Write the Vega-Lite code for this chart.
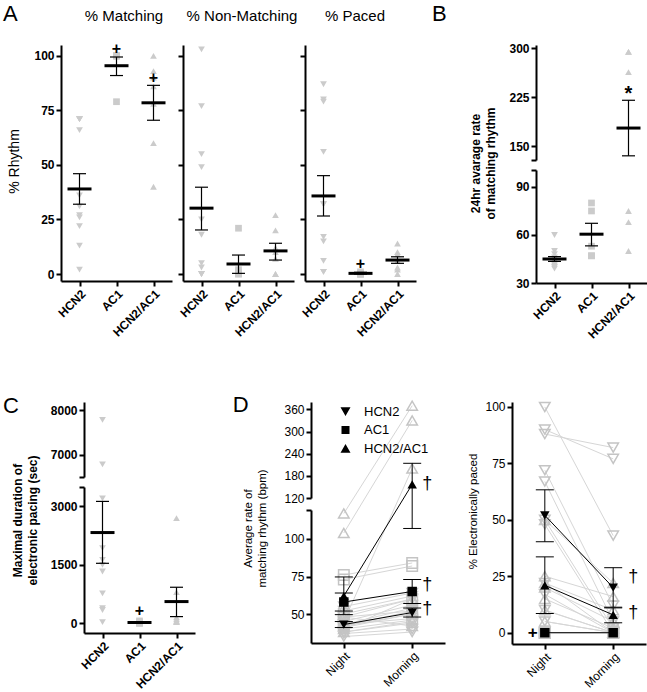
{
"$schema": "https://vega.github.io/schema/vega-lite/v6.json",
"autosize": "none",
"width": 647,
"height": 692,
"padding": 0,
"background": "white",
"config": {
  "font": "Liberation Sans",
  "view": {"stroke": null},
  "axis": {"domainColor": "black", "domainWidth": 2, "tickColor": "black", "tickWidth": 2, "tickSize": 5, "labelColor": "black", "titleColor": "black", "grid": false, "labelPadding": 2, "titleFontWeight": "normal"},
  "legend": {"labelColor": "black"}
},
"datasets": {
  "pts": [
    {"panel":"Matching","group":"HCN2","value":71},{"panel":"Matching","group":"HCN2","value":71},{"panel":"Matching","group":"HCN2","value":71},{"panel":"Matching","group":"HCN2","value":66},{"panel":"Matching","group":"HCN2","value":36},{"panel":"Matching","group":"HCN2","value":31},{"panel":"Matching","group":"HCN2","value":27},{"panel":"Matching","group":"HCN2","value":26},{"panel":"Matching","group":"HCN2","value":22},{"panel":"Matching","group":"HCN2","value":13},{"panel":"Matching","group":"HCN2","value":2},
    {"panel":"Matching","group":"AC1","value":100},{"panel":"Matching","group":"AC1","value":100},{"panel":"Matching","group":"AC1","value":100},{"panel":"Matching","group":"AC1","value":100},{"panel":"Matching","group":"AC1","value":79},
    {"panel":"Matching","group":"HCN2/AC1","value":100},{"panel":"Matching","group":"HCN2/AC1","value":93},{"panel":"Matching","group":"HCN2/AC1","value":90},{"panel":"Matching","group":"HCN2/AC1","value":86},{"panel":"Matching","group":"HCN2/AC1","value":78},{"panel":"Matching","group":"HCN2/AC1","value":60},{"panel":"Matching","group":"HCN2/AC1","value":40},
    {"panel":"NonMatching","group":"HCN2","value":103},{"panel":"NonMatching","group":"HCN2","value":77},{"panel":"NonMatching","group":"HCN2","value":55},{"panel":"NonMatching","group":"HCN2","value":49},{"panel":"NonMatching","group":"HCN2","value":25},{"panel":"NonMatching","group":"HCN2","value":18},{"panel":"NonMatching","group":"HCN2","value":5},{"panel":"NonMatching","group":"HCN2","value":3},{"panel":"NonMatching","group":"HCN2","value":0},{"panel":"NonMatching","group":"HCN2","value":0},{"panel":"NonMatching","group":"HCN2","value":0},
    {"panel":"NonMatching","group":"AC1","value":21},{"panel":"NonMatching","group":"AC1","value":2},{"panel":"NonMatching","group":"AC1","value":1},{"panel":"NonMatching","group":"AC1","value":0},{"panel":"NonMatching","group":"AC1","value":0},
    {"panel":"NonMatching","group":"HCN2/AC1","value":27},{"panel":"NonMatching","group":"HCN2/AC1","value":20},{"panel":"NonMatching","group":"HCN2/AC1","value":12},{"panel":"NonMatching","group":"HCN2/AC1","value":10},{"panel":"NonMatching","group":"HCN2/AC1","value":7},{"panel":"NonMatching","group":"HCN2/AC1","value":0},{"panel":"NonMatching","group":"HCN2/AC1","value":0},
    {"panel":"Paced","group":"HCN2","value":87},{"panel":"Paced","group":"HCN2","value":80},{"panel":"Paced","group":"HCN2","value":79},{"panel":"Paced","group":"HCN2","value":56},{"panel":"Paced","group":"HCN2","value":32},{"panel":"Paced","group":"HCN2","value":32},{"panel":"Paced","group":"HCN2","value":17},{"panel":"Paced","group":"HCN2","value":15},{"panel":"Paced","group":"HCN2","value":6},{"panel":"Paced","group":"HCN2","value":1},{"panel":"Paced","group":"HCN2","value":1},
    {"panel":"Paced","group":"AC1","value":1},{"panel":"Paced","group":"AC1","value":0},{"panel":"Paced","group":"AC1","value":0},{"panel":"Paced","group":"AC1","value":0},{"panel":"Paced","group":"AC1","value":0},
    {"panel":"Paced","group":"HCN2/AC1","value":14},{"panel":"Paced","group":"HCN2/AC1","value":10},{"panel":"Paced","group":"HCN2/AC1","value":9},{"panel":"Paced","group":"HCN2/AC1","value":6},{"panel":"Paced","group":"HCN2/AC1","value":3},{"panel":"Paced","group":"HCN2/AC1","value":2},{"panel":"Paced","group":"HCN2/AC1","value":0},
    {"panel":"B","group":"HCN2","value":60},{"panel":"B","group":"HCN2","value":50},{"panel":"B","group":"HCN2","value":48},{"panel":"B","group":"HCN2","value":46},{"panel":"B","group":"HCN2","value":45},{"panel":"B","group":"HCN2","value":44},{"panel":"B","group":"HCN2","value":43},{"panel":"B","group":"HCN2","value":42},{"panel":"B","group":"HCN2","value":41},{"panel":"B","group":"HCN2","value":40},{"panel":"B","group":"HCN2","value":39},
    {"panel":"B","group":"AC1","value":80},{"panel":"B","group":"AC1","value":75},{"panel":"B","group":"AC1","value":53},{"panel":"B","group":"AC1","value":47},{"panel":"B","group":"AC1","value":47},
    {"panel":"B","group":"HCN2/AC1","value":294},{"panel":"B","group":"HCN2/AC1","value":294},{"panel":"B","group":"HCN2/AC1","value":263},{"panel":"B","group":"HCN2/AC1","value":75},{"panel":"B","group":"HCN2/AC1","value":68},{"panel":"B","group":"HCN2/AC1","value":50},
    {"panel":"C","group":"HCN2","value":7780},{"panel":"C","group":"HCN2","value":6790},{"panel":"C","group":"HCN2","value":3210},{"panel":"C","group":"HCN2","value":1930},{"panel":"C","group":"HCN2","value":1630},{"panel":"C","group":"HCN2","value":1500},{"panel":"C","group":"HCN2","value":1330},{"panel":"C","group":"HCN2","value":770},{"panel":"C","group":"HCN2","value":390},{"panel":"C","group":"HCN2","value":340},{"panel":"C","group":"HCN2","value":30},
    {"panel":"C","group":"AC1","value":60},{"panel":"C","group":"AC1","value":30},{"panel":"C","group":"AC1","value":20},{"panel":"C","group":"AC1","value":0},{"panel":"C","group":"AC1","value":0},
    {"panel":"C","group":"HCN2/AC1","value":2700},{"panel":"C","group":"HCN2/AC1","value":800},{"panel":"C","group":"HCN2/AC1","value":150},{"panel":"C","group":"HCN2/AC1","value":100},{"panel":"C","group":"HCN2/AC1","value":50},{"panel":"C","group":"HCN2/AC1","value":40},{"panel":"C","group":"HCN2/AC1","value":30}
  ],
  "sum": [
    {"panel":"Matching","group":"HCN2","mean":39,"lo":32,"hi":46},
    {"panel":"Matching","group":"AC1","mean":95.5,"lo":91,"hi":99.5},
    {"panel":"Matching","group":"HCN2/AC1","mean":78.5,"lo":70.5,"hi":86.5},
    {"panel":"NonMatching","group":"HCN2","mean":30.2,"lo":20.2,"hi":39.8},
    {"panel":"NonMatching","group":"AC1","mean":4.6,"lo":0.3,"hi":8.7},
    {"panel":"NonMatching","group":"HCN2/AC1","mean":10.6,"lo":6.4,"hi":14.1},
    {"panel":"Paced","group":"HCN2","mean":35.8,"lo":26.6,"hi":45.1},
    {"panel":"Paced","group":"AC1","mean":0.3,"lo":0,"hi":0.8},
    {"panel":"Paced","group":"HCN2/AC1","mean":6.4,"lo":4.9,"hi":7.9},
    {"panel":"B","group":"HCN2","mean":45,"lo":43.5,"hi":46.5},
    {"panel":"B","group":"AC1","mean":60.5,"lo":53.2,"hi":67.3},
    {"panel":"B","group":"HCN2/AC1","mean":177.5,"lo":135,"hi":220},
    {"panel":"C","group":"HCN2","mean":2330,"lo":1540,"hi":3130},
    {"panel":"C","group":"AC1","mean":20,"lo":0,"hi":40},
    {"panel":"C","group":"HCN2/AC1","mean":557,"lo":171,"hi":925}
  ],
  "ann": [
    {"panel":"Matching","group":"AC1","value":103,"label":"+"},
    {"panel":"Matching","group":"HCN2/AC1","value":90,"label":"+"},
    {"panel":"Paced","group":"AC1","value":4.5,"label":"+"},
    {"panel":"B","group":"HCN2/AC1","value":236,"label":"*"},
    {"panel":"C","group":"AC1","value":317,"label":"+"}
  ],
  "dind": [
    {"panel":"D1","id":"h1","group":"HCN2","time":"Night","value":55},{"panel":"D1","id":"h1","group":"HCN2","time":"Morning","value":64},
    {"panel":"D1","id":"h2","group":"HCN2","time":"Night","value":52},{"panel":"D1","id":"h2","group":"HCN2","time":"Morning","value":62},
    {"panel":"D1","id":"h3","group":"HCN2","time":"Night","value":48},{"panel":"D1","id":"h3","group":"HCN2","time":"Morning","value":60},
    {"panel":"D1","id":"h4","group":"HCN2","time":"Night","value":45},{"panel":"D1","id":"h4","group":"HCN2","time":"Morning","value":56},
    {"panel":"D1","id":"h5","group":"HCN2","time":"Night","value":43},{"panel":"D1","id":"h5","group":"HCN2","time":"Morning","value":54},
    {"panel":"D1","id":"h6","group":"HCN2","time":"Night","value":42},{"panel":"D1","id":"h6","group":"HCN2","time":"Morning","value":52},
    {"panel":"D1","id":"h7","group":"HCN2","time":"Night","value":41},{"panel":"D1","id":"h7","group":"HCN2","time":"Morning","value":50},
    {"panel":"D1","id":"h8","group":"HCN2","time":"Night","value":40},{"panel":"D1","id":"h8","group":"HCN2","time":"Morning","value":46},
    {"panel":"D1","id":"h9","group":"HCN2","time":"Night","value":38},{"panel":"D1","id":"h9","group":"HCN2","time":"Morning","value":44},
    {"panel":"D1","id":"h10","group":"HCN2","time":"Night","value":37},{"panel":"D1","id":"h10","group":"HCN2","time":"Morning","value":40},
    {"panel":"D1","id":"h11","group":"HCN2","time":"Night","value":35},{"panel":"D1","id":"h11","group":"HCN2","time":"Morning","value":38},
    {"panel":"D1","id":"a1","group":"AC1","time":"Night","value":76},{"panel":"D1","id":"a1","group":"AC1","time":"Morning","value":84},
    {"panel":"D1","id":"a2","group":"AC1","time":"Night","value":73},{"panel":"D1","id":"a2","group":"AC1","time":"Morning","value":82},
    {"panel":"D1","id":"a3","group":"AC1","time":"Night","value":50},{"panel":"D1","id":"a3","group":"AC1","time":"Morning","value":60},
    {"panel":"D1","id":"a4","group":"AC1","time":"Night","value":48},{"panel":"D1","id":"a4","group":"AC1","time":"Morning","value":52},
    {"panel":"D1","id":"a5","group":"AC1","time":"Night","value":43},{"panel":"D1","id":"a5","group":"AC1","time":"Morning","value":47},
    {"panel":"D1","id":"c1","group":"HCN2/AC1","time":"Night","value":117},{"panel":"D1","id":"c1","group":"HCN2/AC1","time":"Morning","value":370},
    {"panel":"D1","id":"c2","group":"HCN2/AC1","time":"Night","value":104},{"panel":"D1","id":"c2","group":"HCN2/AC1","time":"Morning","value":330},
    {"panel":"D1","id":"c3","group":"HCN2/AC1","time":"Night","value":45},{"panel":"D1","id":"c3","group":"HCN2/AC1","time":"Morning","value":200},
    {"panel":"D1","id":"c4","group":"HCN2/AC1","time":"Night","value":40},{"panel":"D1","id":"c4","group":"HCN2/AC1","time":"Morning","value":60},
    {"panel":"D1","id":"c5","group":"HCN2/AC1","time":"Night","value":42},{"panel":"D1","id":"c5","group":"HCN2/AC1","time":"Morning","value":50},
    {"panel":"D1","id":"c6","group":"HCN2/AC1","time":"Night","value":38},{"panel":"D1","id":"c6","group":"HCN2/AC1","time":"Morning","value":45},
    {"panel":"D1","id":"c7","group":"HCN2/AC1","time":"Night","value":48},{"panel":"D1","id":"c7","group":"HCN2/AC1","time":"Morning","value":42},
    {"panel":"D2","id":"h1","group":"HCN2","time":"Night","value":100},{"panel":"D2","id":"h1","group":"HCN2","time":"Morning","value":43},
    {"panel":"D2","id":"h2","group":"HCN2","time":"Night","value":90},{"panel":"D2","id":"h2","group":"HCN2","time":"Morning","value":77},
    {"panel":"D2","id":"h3","group":"HCN2","time":"Night","value":88},{"panel":"D2","id":"h3","group":"HCN2","time":"Morning","value":82},
    {"panel":"D2","id":"h4","group":"HCN2","time":"Night","value":72},{"panel":"D2","id":"h4","group":"HCN2","time":"Morning","value":12},
    {"panel":"D2","id":"h5","group":"HCN2","time":"Night","value":67},{"panel":"D2","id":"h5","group":"HCN2","time":"Morning","value":5},
    {"panel":"D2","id":"h6","group":"HCN2","time":"Night","value":50},{"panel":"D2","id":"h6","group":"HCN2","time":"Morning","value":2},
    {"panel":"D2","id":"h7","group":"HCN2","time":"Night","value":48},{"panel":"D2","id":"h7","group":"HCN2","time":"Morning","value":0},
    {"panel":"D2","id":"h8","group":"HCN2","time":"Night","value":22},{"panel":"D2","id":"h8","group":"HCN2","time":"Morning","value":0},
    {"panel":"D2","id":"h9","group":"HCN2","time":"Night","value":17},{"panel":"D2","id":"h9","group":"HCN2","time":"Morning","value":0},
    {"panel":"D2","id":"h10","group":"HCN2","time":"Night","value":10},{"panel":"D2","id":"h10","group":"HCN2","time":"Morning","value":0},
    {"panel":"D2","id":"h11","group":"HCN2","time":"Night","value":5},{"panel":"D2","id":"h11","group":"HCN2","time":"Morning","value":0},
    {"panel":"D2","id":"a1","group":"AC1","time":"Night","value":0},{"panel":"D2","id":"a1","group":"AC1","time":"Morning","value":0},
    {"panel":"D2","id":"a2","group":"AC1","time":"Night","value":0},{"panel":"D2","id":"a2","group":"AC1","time":"Morning","value":0},
    {"panel":"D2","id":"a3","group":"AC1","time":"Night","value":0},{"panel":"D2","id":"a3","group":"AC1","time":"Morning","value":0},
    {"panel":"D2","id":"a4","group":"AC1","time":"Night","value":0},{"panel":"D2","id":"a4","group":"AC1","time":"Morning","value":0},
    {"panel":"D2","id":"a5","group":"AC1","time":"Night","value":0},{"panel":"D2","id":"a5","group":"AC1","time":"Morning","value":0},
    {"panel":"D2","id":"c1","group":"HCN2/AC1","time":"Night","value":50},{"panel":"D2","id":"c1","group":"HCN2/AC1","time":"Morning","value":22},
    {"panel":"D2","id":"c2","group":"HCN2/AC1","time":"Night","value":25},{"panel":"D2","id":"c2","group":"HCN2/AC1","time":"Morning","value":16},
    {"panel":"D2","id":"c3","group":"HCN2/AC1","time":"Night","value":22},{"panel":"D2","id":"c3","group":"HCN2/AC1","time":"Morning","value":10},
    {"panel":"D2","id":"c4","group":"HCN2/AC1","time":"Night","value":20},{"panel":"D2","id":"c4","group":"HCN2/AC1","time":"Morning","value":5},
    {"panel":"D2","id":"c5","group":"HCN2/AC1","time":"Night","value":15},{"panel":"D2","id":"c5","group":"HCN2/AC1","time":"Morning","value":2},
    {"panel":"D2","id":"c6","group":"HCN2/AC1","time":"Night","value":10},{"panel":"D2","id":"c6","group":"HCN2/AC1","time":"Morning","value":0},
    {"panel":"D2","id":"c7","group":"HCN2/AC1","time":"Night","value":5},{"panel":"D2","id":"c7","group":"HCN2/AC1","time":"Morning","value":0}
  ],
  "dsum": [
    {"panel":"D1","group":"HCN2","time":"Night","mean":43,"lo":41,"hi":45},
    {"panel":"D1","group":"HCN2","time":"Morning","mean":51,"lo":48,"hi":54},
    {"panel":"D1","group":"AC1","time":"Night","mean":58,"lo":52,"hi":64},
    {"panel":"D1","group":"AC1","time":"Morning","mean":65,"lo":57,"hi":73},
    {"panel":"D1","group":"HCN2/AC1","time":"Night","mean":62,"lo":49.6,"hi":74.7},
    {"panel":"D1","group":"HCN2/AC1","time":"Morning","mean":157,"lo":107,"hi":214},
    {"panel":"D2","group":"HCN2","time":"Night","mean":52,"lo":40.3,"hi":63.3},
    {"panel":"D2","group":"HCN2","time":"Morning","mean":20,"lo":11.3,"hi":28.8},
    {"panel":"D2","group":"AC1","time":"Night","mean":0,"lo":0,"hi":0},
    {"panel":"D2","group":"AC1","time":"Morning","mean":0,"lo":0,"hi":0},
    {"panel":"D2","group":"HCN2/AC1","time":"Night","mean":21,"lo":8.5,"hi":33.6},
    {"panel":"D2","group":"HCN2/AC1","time":"Morning","mean":7.9,"lo":4.4,"hi":11}
  ],
  "dann": [
    {"panel":"D1","group":"HCN2/AC1","time":"Morning","value":157,"label":"†"},
    {"panel":"D1","group":"AC1","time":"Morning","value":69.6,"label":"†"},
    {"panel":"D1","group":"HCN2","time":"Morning","value":53.3,"label":"†"},
    {"panel":"D2","group":"HCN2","time":"Morning","value":24.8,"label":"†"},
    {"panel":"D2","group":"HCN2/AC1","time":"Morning","value":8.8,"label":"†"},
    {"panel":"D2","group":"AC1","time":"Night","value":0,"label":"+"}
  ]
},
"resolve": {"scale": {"x": "independent", "y": "independent", "shape": "independent"}, "axis": {"x": "independent", "y": "independent"}},
"layer": [
 {
  "encoding": {"x": {"field": "group", "type": "nominal", "scale": {"type": "point", "domain": ["HCN2","AC1","HCN2/AC1"], "range": [61, 172], "padding": 0.5}, "axis": {"orient": "bottom", "offset": -411, "title": null, "labelAngle": -45, "labelFontWeight": "bold", "labelFontSize": 12}}},
  "layer": [
   {"data": {"name": "pts"}, "transform": [{"filter": "datum.panel === 'Matching'"}],
    "mark": {"type": "point", "filled": true, "size": 45, "color": "#cbcbcb", "opacity": 1},
    "encoding": {"y": {"field": "value", "type": "quantitative", "scale": {"domain": [-3.2, 105], "range": [281, 45], "nice": false, "zero": false}, "axis": {"orient": "left", "offset": -61, "values": [0,25,50,75,100], "title": "% Rhythm", "titleFontSize": 14, "titleX": -40, "titleY": 161, "labelFontWeight": "bold", "labelFontSize": 12}},
                 "shape": {"field": "group", "type": "nominal", "scale": {"domain": ["HCN2","AC1","HCN2/AC1"], "range": ["triangle-down","square","triangle-up"]}, "legend": null}}},
   {"data": {"name": "sum"}, "transform": [{"filter": "datum.panel === 'Matching'"}], "mark": {"type": "rule", "color": "black", "strokeWidth": 1.2}, "encoding": {"y": {"field": "lo", "type": "quantitative"}, "y2": {"field": "hi"}}},
   {"data": {"name": "sum"}, "transform": [{"filter": "datum.panel === 'Matching'"}], "mark": {"type": "tick", "color": "black", "thickness": 1.2, "size": 13, "orient": "horizontal", "opacity": 1}, "encoding": {"y": {"field": "lo", "type": "quantitative"}}},
   {"data": {"name": "sum"}, "transform": [{"filter": "datum.panel === 'Matching'"}], "mark": {"type": "tick", "color": "black", "thickness": 1.2, "size": 13, "orient": "horizontal", "opacity": 1}, "encoding": {"y": {"field": "hi", "type": "quantitative"}}},
   {"data": {"name": "sum"}, "transform": [{"filter": "datum.panel === 'Matching'"}], "mark": {"type": "tick", "color": "black", "thickness": 3, "size": 24, "orient": "horizontal", "opacity": 1}, "encoding": {"y": {"field": "mean", "type": "quantitative"}}},
   {"data": {"name": "ann"}, "transform": [{"filter": "datum.panel === 'Matching'"}], "mark": {"type": "text", "fontSize": 16, "fontWeight": "bold", "color": "black", "fill": "black"}, "encoding": {"y": {"field": "value", "type": "quantitative"}, "text": {"field": "label", "type": "nominal"}}},
   {"data": {"values": [{"k": 1}]}, "mark": {"type": "text", "text": "% Matching", "fontSize": 15, "color": "black", "fill": "black", "dx": 7.5}, "encoding": {"x": {"datum": "AC1", "type": "nominal"}, "y": {"datum": 118.3, "type": "quantitative"}}},
   {"data": {"values": [{"k": 1}]}, "mark": {"type": "text", "text": "A", "fontSize": 22, "color": "black", "fill": "black", "align": "left", "baseline": "alphabetic", "dx": -76.5}, "encoding": {"x": {"datum": "HCN2", "type": "nominal"}, "y": {"datum": 116.0, "type": "quantitative"}}}
  ]
 },
 {
  "encoding": {"x": {"field": "group", "type": "nominal", "scale": {"type": "point", "domain": ["HCN2","AC1","HCN2/AC1"], "range": [183, 294], "padding": 0.5}, "axis": {"orient": "bottom", "offset": -411, "title": null, "labelAngle": -45, "labelFontWeight": "bold", "labelFontSize": 12}}},
  "layer": [
   {"data": {"name": "pts"}, "transform": [{"filter": "datum.panel === 'NonMatching'"}],
    "mark": {"type": "point", "filled": true, "size": 45, "color": "#cbcbcb", "opacity": 1},
    "encoding": {"y": {"field": "value", "type": "quantitative", "scale": {"domain": [-3.2, 105], "range": [281, 45], "nice": false, "zero": false}, "axis": {"orient": "left", "offset": -183, "values": [0,25,50,75,100], "title": null, "labels": false}},
                 "shape": {"field": "group", "type": "nominal", "scale": {"domain": ["HCN2","AC1","HCN2/AC1"], "range": ["triangle-down","square","triangle-up"]}, "legend": null}}},
   {"data": {"name": "sum"}, "transform": [{"filter": "datum.panel === 'NonMatching'"}], "mark": {"type": "rule", "color": "black", "strokeWidth": 1.2}, "encoding": {"y": {"field": "lo", "type": "quantitative"}, "y2": {"field": "hi"}}},
   {"data": {"name": "sum"}, "transform": [{"filter": "datum.panel === 'NonMatching'"}], "mark": {"type": "tick", "color": "black", "thickness": 1.2, "size": 13, "orient": "horizontal", "opacity": 1}, "encoding": {"y": {"field": "lo", "type": "quantitative"}}},
   {"data": {"name": "sum"}, "transform": [{"filter": "datum.panel === 'NonMatching'"}], "mark": {"type": "tick", "color": "black", "thickness": 1.2, "size": 13, "orient": "horizontal", "opacity": 1}, "encoding": {"y": {"field": "hi", "type": "quantitative"}}},
   {"data": {"name": "sum"}, "transform": [{"filter": "datum.panel === 'NonMatching'"}], "mark": {"type": "tick", "color": "black", "thickness": 3, "size": 24, "orient": "horizontal", "opacity": 1}, "encoding": {"y": {"field": "mean", "type": "quantitative"}}},
   {"data": {"values": [{"k": 1}]}, "mark": {"type": "text", "text": "% Non-Matching", "fontSize": 15, "color": "black", "fill": "black", "dx": 3.5}, "encoding": {"x": {"datum": "AC1", "type": "nominal"}, "y": {"datum": 118.3, "type": "quantitative"}}}
  ]
 },
 {
  "encoding": {"x": {"field": "group", "type": "nominal", "scale": {"type": "point", "domain": ["HCN2","AC1","HCN2/AC1"], "range": [305, 416], "padding": 0.5}, "axis": {"orient": "bottom", "offset": -411, "title": null, "labelAngle": -45, "labelFontWeight": "bold", "labelFontSize": 12}}},
  "layer": [
   {"data": {"name": "pts"}, "transform": [{"filter": "datum.panel === 'Paced'"}],
    "mark": {"type": "point", "filled": true, "size": 45, "color": "#cbcbcb", "opacity": 1},
    "encoding": {"y": {"field": "value", "type": "quantitative", "scale": {"domain": [-3.2, 105], "range": [281, 45], "nice": false, "zero": false}, "axis": {"orient": "left", "offset": -305, "values": [0,25,50,75,100], "title": null, "labels": false}},
                 "shape": {"field": "group", "type": "nominal", "scale": {"domain": ["HCN2","AC1","HCN2/AC1"], "range": ["triangle-down","square","triangle-up"]}, "legend": null}}},
   {"data": {"name": "sum"}, "transform": [{"filter": "datum.panel === 'Paced'"}], "mark": {"type": "rule", "color": "black", "strokeWidth": 1.2}, "encoding": {"y": {"field": "lo", "type": "quantitative"}, "y2": {"field": "hi"}}},
   {"data": {"name": "sum"}, "transform": [{"filter": "datum.panel === 'Paced'"}], "mark": {"type": "tick", "color": "black", "thickness": 1.2, "size": 13, "orient": "horizontal", "opacity": 1}, "encoding": {"y": {"field": "lo", "type": "quantitative"}}},
   {"data": {"name": "sum"}, "transform": [{"filter": "datum.panel === 'Paced'"}], "mark": {"type": "tick", "color": "black", "thickness": 1.2, "size": 13, "orient": "horizontal", "opacity": 1}, "encoding": {"y": {"field": "hi", "type": "quantitative"}}},
   {"data": {"name": "sum"}, "transform": [{"filter": "datum.panel === 'Paced'"}], "mark": {"type": "tick", "color": "black", "thickness": 3, "size": 24, "orient": "horizontal", "opacity": 1}, "encoding": {"y": {"field": "mean", "type": "quantitative"}}},
   {"data": {"name": "ann"}, "transform": [{"filter": "datum.panel === 'Paced'"}], "mark": {"type": "text", "fontSize": 16, "fontWeight": "bold", "color": "black", "fill": "black"}, "encoding": {"y": {"field": "value", "type": "quantitative"}, "text": {"field": "label", "type": "nominal"}}},
   {"data": {"values": [{"k": 1}]}, "mark": {"type": "text", "text": "% Paced", "fontSize": 15, "color": "black", "fill": "black", "dx": -5.5}, "encoding": {"x": {"datum": "AC1", "type": "nominal"}, "y": {"datum": 118.3, "type": "quantitative"}}}
  ]
 },
 {
  "resolve": {"scale": {"y": "independent"}, "axis": {"y": "independent"}},
  "layer": [
   {
    "encoding": {"x": {"field": "group", "type": "nominal", "scale": {"type": "point", "domain": ["HCN2","AC1","HCN2/AC1"], "range": [536, 647], "padding": 0.5}, "axis": {"orient": "bottom", "offset": -409, "title": null, "labelAngle": -45, "labelFontWeight": "bold", "labelFontSize": 12}}},
    "layer": [
     {"data": {"name": "pts"}, "transform": [{"filter": "datum.panel === 'B'"}],
      "mark": {"type": "point", "filled": true, "size": 45, "color": "#cbcbcb", "opacity": 1},
      "encoding": {"y": {"field": "value", "type": "quantitative", "scale": {"domain": [30, 100.6, 128.6, 304.6], "range": [283, 170, 160, 45], "nice": false, "zero": false}, "axis": null},
                   "shape": {"field": "group", "type": "nominal", "scale": {"domain": ["HCN2","AC1","HCN2/AC1"], "range": ["triangle-down","square","triangle-up"]}, "legend": null}}},
     {"data": {"name": "sum"}, "transform": [{"filter": "datum.panel === 'B'"}], "mark": {"type": "rule", "color": "black", "strokeWidth": 1.2}, "encoding": {"y": {"field": "lo", "type": "quantitative"}, "y2": {"field": "hi"}}},
     {"data": {"name": "sum"}, "transform": [{"filter": "datum.panel === 'B'"}], "mark": {"type": "tick", "color": "black", "thickness": 1.2, "size": 13, "orient": "horizontal", "opacity": 1}, "encoding": {"y": {"field": "lo", "type": "quantitative"}}},
     {"data": {"name": "sum"}, "transform": [{"filter": "datum.panel === 'B'"}], "mark": {"type": "tick", "color": "black", "thickness": 1.2, "size": 13, "orient": "horizontal", "opacity": 1}, "encoding": {"y": {"field": "hi", "type": "quantitative"}}},
     {"data": {"name": "sum"}, "transform": [{"filter": "datum.panel === 'B'"}], "mark": {"type": "tick", "color": "black", "thickness": 3, "size": 24, "orient": "horizontal", "opacity": 1}, "encoding": {"y": {"field": "mean", "type": "quantitative"}}},
     {"data": {"name": "ann"}, "transform": [{"filter": "datum.panel === 'B'"}], "mark": {"type": "text", "fontSize": 20, "fontWeight": "bold", "color": "black", "fill": "black", "baseline": "top", "dy": -6}, "encoding": {"y": {"field": "value", "type": "quantitative"}, "text": {"field": "label", "type": "nominal"}}},
     {"data": {"values": [{"k": 1}]}, "mark": {"type": "text", "text": "B", "fontSize": 22, "color": "black", "fill": "black", "align": "left", "baseline": "alphabetic", "dx": -122.5}, "encoding": {"x": {"datum": "HCN2", "type": "nominal"}, "y": {"datum": 341.3, "type": "quantitative"}}}
    ]
   },
   {"data": {"values": [{"value": 200}]}, "mark": {"type": "point", "opacity": 0},
    "encoding": {"y": {"field": "value", "type": "quantitative", "scale": {"domain": [128.6, 304.6], "range": [160, 45], "nice": false, "zero": false}, "axis": {"orient": "left", "offset": -536, "values": [128.6,150,225,300], "labelExpr": "datum.value < 140 ? '' : datum.label", "title": null, "labelFontWeight": "bold", "labelFontSize": 12}}}},
   {"data": {"values": [{"value": 50}]}, "mark": {"type": "point", "opacity": 0},
    "encoding": {"y": {"field": "value", "type": "quantitative", "scale": {"domain": [30, 100.6], "range": [283, 170], "nice": false, "zero": false}, "axis": {"orient": "left", "offset": -536, "values": [30,60,90,100.6], "labelExpr": "datum.value > 95 ? '' : datum.label", "title": ["24hr avarage rate", "of matching rhythm"], "titleFontWeight": "bold", "titleFontSize": 12, "titleLineHeight": 15, "titleX": -54, "titleY": 163, "labelFontWeight": "bold", "labelFontSize": 12}}}}
  ]
 },
 {
  "resolve": {"scale": {"y": "independent"}, "axis": {"y": "independent"}},
  "layer": [
   {
    "encoding": {"x": {"field": "group", "type": "nominal", "scale": {"type": "point", "domain": ["HCN2","AC1","HCN2/AC1"], "range": [84, 195], "padding": 0.5}, "axis": {"orient": "bottom", "offset": -59, "title": null, "labelAngle": -45, "labelFontWeight": "bold", "labelFontSize": 12}}},
    "layer": [
     {"data": {"name": "pts"}, "transform": [{"filter": "datum.panel === 'C'"}],
      "mark": {"type": "point", "filled": true, "size": 45, "color": "#cbcbcb", "opacity": 1},
      "encoding": {"y": {"field": "value", "type": "quantitative", "scale": {"domain": [-250, 3500, 6511, 8178], "range": [633, 487, 477, 402], "nice": false, "zero": false}, "axis": null},
                   "shape": {"field": "group", "type": "nominal", "scale": {"domain": ["HCN2","AC1","HCN2/AC1"], "range": ["triangle-down","square","triangle-up"]}, "legend": null}}},
     {"data": {"name": "sum"}, "transform": [{"filter": "datum.panel === 'C'"}], "mark": {"type": "rule", "color": "black", "strokeWidth": 1.2}, "encoding": {"y": {"field": "lo", "type": "quantitative"}, "y2": {"field": "hi"}}},
     {"data": {"name": "sum"}, "transform": [{"filter": "datum.panel === 'C'"}], "mark": {"type": "tick", "color": "black", "thickness": 1.2, "size": 13, "orient": "horizontal", "opacity": 1}, "encoding": {"y": {"field": "lo", "type": "quantitative"}}},
     {"data": {"name": "sum"}, "transform": [{"filter": "datum.panel === 'C'"}], "mark": {"type": "tick", "color": "black", "thickness": 1.2, "size": 13, "orient": "horizontal", "opacity": 1}, "encoding": {"y": {"field": "hi", "type": "quantitative"}}},
     {"data": {"name": "sum"}, "transform": [{"filter": "datum.panel === 'C'"}], "mark": {"type": "tick", "color": "black", "thickness": 3, "size": 24, "orient": "horizontal", "opacity": 1}, "encoding": {"y": {"field": "mean", "type": "quantitative"}}},
     {"data": {"name": "ann"}, "transform": [{"filter": "datum.panel === 'C'"}], "mark": {"type": "text", "fontSize": 16, "fontWeight": "bold", "color": "black", "fill": "black"}, "encoding": {"y": {"field": "value", "type": "quantitative"}, "text": {"field": "label", "type": "nominal"}}},
     {"data": {"values": [{"k": 1}]}, "mark": {"type": "text", "text": "C", "fontSize": 22, "color": "black", "fill": "black", "align": "left", "baseline": "alphabetic", "dx": -99.5}, "encoding": {"x": {"datum": "HCN2", "type": "nominal"}, "y": {"datum": 7934, "type": "quantitative"}}}
    ]
   },
   {"data": {"values": [{"value": 7000}]}, "mark": {"type": "point", "opacity": 0},
    "encoding": {"y": {"field": "value", "type": "quantitative", "scale": {"domain": [6511, 8178], "range": [477, 402], "nice": false, "zero": false}, "axis": {"orient": "left", "offset": -84, "values": [6511,7000,8000], "format": "d", "labelExpr": "datum.value < 6600 ? '' : datum.label", "title": null, "labelFontWeight": "bold", "labelFontSize": 12}}}},
   {"data": {"values": [{"value": 1000}]}, "mark": {"type": "point", "opacity": 0},
    "encoding": {"y": {"field": "value", "type": "quantitative", "scale": {"domain": [-250, 3500], "range": [633, 487], "nice": false, "zero": false}, "axis": {"orient": "left", "offset": -84, "values": [0,1500,3000,3500], "format": "d", "labelExpr": "datum.value > 3400 ? '' : datum.label", "title": ["Maximal duration of", "electronic pacing  (sec)"], "titleFontWeight": "bold", "titleFontSize": 12, "titleLineHeight": 15, "titleX": -60, "titleY": 520, "labelFontWeight": "bold", "labelFontSize": 12}}}}
  ]
 },
 {
  "resolve": {"scale": {"y": "independent"}, "axis": {"y": "independent"}},
  "layer": [
   {
    "encoding": {"x": {"field": "time", "type": "nominal", "scale": {"type": "point", "domain": ["Night","Morning"], "range": [311, 445], "padding": 0.48}, "axis": {"orient": "bottom", "offset": -49, "title": null, "labelAngle": -45, "labelFontSize": 12}}},
    "layer": [
     {"data": {"name": "dind"}, "transform": [{"filter": "datum.panel === 'D1'"}], "mark": {"type": "line", "color": "#d6d6d6", "strokeWidth": 1},
      "encoding": {"y": {"field": "value", "type": "quantitative", "scale": {"domain": [30.7, 119.3, 120, 380], "range": [643, 510, 498, 402], "nice": false, "zero": false}, "axis": null}, "detail": {"field": "id", "type": "nominal"}}},
     {"data": {"name": "dind"}, "transform": [{"filter": "datum.panel === 'D1'"}], "mark": {"type": "point", "filled": false, "size": 110, "strokeWidth": 1.5, "color": "#c4c4c4", "opacity": 1},
      "encoding": {"y": {"field": "value", "type": "quantitative"}, "shape": {"field": "group", "type": "nominal", "scale": {"domain": ["HCN2","AC1","HCN2/AC1"], "range": ["triangle-down","square","triangle-up"]}, "legend": null}}},
     {"data": {"name": "dsum"}, "transform": [{"filter": "datum.panel === 'D1'"}], "mark": {"type": "line", "color": "black", "strokeWidth": 1}, "encoding": {"y": {"field": "mean", "type": "quantitative"}, "detail": {"field": "group", "type": "nominal"}}},
     {"data": {"name": "dsum"}, "transform": [{"filter": "datum.panel === 'D1'"}], "mark": {"type": "rule", "color": "black", "strokeWidth": 1}, "encoding": {"y": {"field": "lo", "type": "quantitative"}, "y2": {"field": "hi"}}},
     {"data": {"name": "dsum"}, "transform": [{"filter": "datum.panel === 'D1'"}], "mark": {"type": "tick", "color": "black", "thickness": 1, "size": 18, "orient": "horizontal", "opacity": 1}, "encoding": {"y": {"field": "lo", "type": "quantitative"}}},
     {"data": {"name": "dsum"}, "transform": [{"filter": "datum.panel === 'D1'"}], "mark": {"type": "tick", "color": "black", "thickness": 1, "size": 18, "orient": "horizontal", "opacity": 1}, "encoding": {"y": {"field": "hi", "type": "quantitative"}}},
     {"data": {"name": "dsum"}, "transform": [{"filter": "datum.panel === 'D1'"}], "mark": {"type": "point", "filled": true, "size": 90, "color": "black", "opacity": 1},
      "encoding": {"y": {"field": "mean", "type": "quantitative"}, "shape": {"field": "group", "type": "nominal", "scale": {"domain": ["HCN2","AC1","HCN2/AC1"], "range": ["triangle-down","square","triangle-up"]}, "legend": null}}},
     {"data": {"name": "dann"}, "transform": [{"filter": "datum.panel === 'D1'"}], "mark": {"type": "text", "fontSize": 18, "dx": 15, "color": "black", "fill": "black"}, "encoding": {"y": {"field": "value", "type": "quantitative"}, "text": {"field": "label", "type": "nominal"}}},
     {"data": {"values": [{"k": 1}]}, "mark": {"type": "text", "text": "D", "fontSize": 22, "color": "black", "fill": "black", "align": "left", "baseline": "alphabetic", "dx": -111}, "encoding": {"x": {"datum": "Night", "type": "nominal"}, "y": {"datum": 352.9, "type": "quantitative"}}}
    ]
   },
   {"data": {"values": [{"value": 200}]}, "mark": {"type": "point", "opacity": 0},
    "encoding": {"y": {"field": "value", "type": "quantitative", "scale": {"domain": [120, 380], "range": [498, 402], "nice": false, "zero": false}, "axis": {"orient": "left", "offset": -311, "values": [120,180,240,300,360], "title": null, "labelFontSize": 12}}}},
   {"data": {"values": [{"value": 50}]}, "mark": {"type": "point", "opacity": 0},
    "encoding": {"y": {"field": "value", "type": "quantitative", "scale": {"domain": [30.7, 119.3], "range": [643, 510], "nice": false, "zero": false}, "axis": {"orient": "left", "offset": -311, "values": [50,75,100,119.3], "labelExpr": "datum.value > 110 ? '' : datum.label", "title": ["Average rate of", "matching rhythm (bpm)"], "titleFontSize": 11.5, "titleLineHeight": 14, "titleX": -58, "titleY": 528, "labelFontSize": 12}}}}
  ]
 },
 {
  "encoding": {"x": {"field": "time", "type": "nominal", "scale": {"type": "point", "domain": ["Night","Morning"], "range": [512, 646], "padding": 0.48}, "axis": {"orient": "bottom", "offset": -48, "title": null, "labelAngle": -45, "labelFontSize": 12}}},
  "layer": [
   {"data": {"name": "dind"}, "transform": [{"filter": "datum.panel === 'D2'"}], "mark": {"type": "line", "color": "#d6d6d6", "strokeWidth": 1},
    "encoding": {"y": {"field": "value", "type": "quantitative", "scale": {"domain": [-5, 102.2], "range": [644, 402], "nice": false, "zero": false}, "axis": {"orient": "left", "offset": -512, "values": [0,25,50,75,100], "title": "% Electronically paced", "titleFontSize": 11.5, "titleX": -34, "titleY": 511, "labelFontSize": 12}}, "detail": {"field": "id", "type": "nominal"}}},
   {"data": {"name": "dind"}, "transform": [{"filter": "datum.panel === 'D2'"}], "mark": {"type": "point", "filled": false, "size": 110, "strokeWidth": 1.5, "color": "#c4c4c4", "opacity": 1},
    "encoding": {"y": {"field": "value", "type": "quantitative"}, "shape": {"field": "group", "type": "nominal", "scale": {"domain": ["HCN2","AC1","HCN2/AC1"], "range": ["triangle-down","square","triangle-up"]}, "legend": null}}},
   {"data": {"name": "dsum"}, "transform": [{"filter": "datum.panel === 'D2'"}], "mark": {"type": "line", "color": "black", "strokeWidth": 1}, "encoding": {"y": {"field": "mean", "type": "quantitative"}, "detail": {"field": "group", "type": "nominal"}}},
   {"data": {"name": "dsum"}, "transform": [{"filter": "datum.panel === 'D2'"}], "mark": {"type": "rule", "color": "black", "strokeWidth": 1}, "encoding": {"y": {"field": "lo", "type": "quantitative"}, "y2": {"field": "hi"}}},
   {"data": {"name": "dsum"}, "transform": [{"filter": "datum.panel === 'D2' && datum.hi > datum.lo"}], "mark": {"type": "tick", "color": "black", "thickness": 1, "size": 18, "orient": "horizontal", "opacity": 1}, "encoding": {"y": {"field": "lo", "type": "quantitative"}}},
   {"data": {"name": "dsum"}, "transform": [{"filter": "datum.panel === 'D2' && datum.hi > datum.lo"}], "mark": {"type": "tick", "color": "black", "thickness": 1, "size": 18, "orient": "horizontal", "opacity": 1}, "encoding": {"y": {"field": "hi", "type": "quantitative"}}},
   {"data": {"name": "dsum"}, "transform": [{"filter": "datum.panel === 'D2'"}], "mark": {"type": "point", "filled": true, "size": 90, "color": "black", "opacity": 1},
    "encoding": {"y": {"field": "mean", "type": "quantitative"}, "shape": {"field": "group", "type": "nominal", "scale": {"domain": ["HCN2","AC1","HCN2/AC1"], "range": ["triangle-down","square","triangle-up"]}, "legend": null}}},
   {"data": {"name": "dann"}, "transform": [{"filter": "datum.panel === 'D2' && datum.label === '†'"}], "mark": {"type": "text", "fontSize": 18, "dx": 20, "color": "black", "fill": "black"}, "encoding": {"y": {"field": "value", "type": "quantitative"}, "text": {"field": "label", "type": "nominal"}}},
   {"data": {"name": "dann"}, "transform": [{"filter": "datum.panel === 'D2' && datum.label === '+'"}], "mark": {"type": "text", "fontSize": 17, "fontWeight": "bold", "dx": -12, "color": "black", "fill": "black"}, "encoding": {"y": {"field": "value", "type": "quantitative"}, "text": {"field": "label", "type": "nominal"}}}
  ]
 },
 {
  "data": {"values": [{"group": "HCN2"}, {"group": "AC1"}, {"group": "HCN2/AC1"}]},
  "mark": {"type": "point", "filled": true, "color": "black", "opacity": 1},
  "encoding": {
    "y": {"field": "none", "type": "quantitative", "scale": {"domain": [0, 1]}, "axis": null},
    "shape": {"field": "group", "type": "nominal", "scale": {"domain": ["HCN2","AC1","HCN2/AC1"], "range": ["M-1.8,0H1.8M-1,-0.85L1,-0.85L0,0.9Z", "M-1.8,0H1.8M-0.8,-0.8L0.8,-0.8L0.8,0.8L-0.8,0.8Z", "M-1.8,0H1.8M-1,0.85L1,0.85L0,-0.9Z"]},
              "legend": {"title": null, "orient": "none", "legendX": 339, "legendY": 405, "symbolSize": 100, "symbolFillColor": "black", "symbolStrokeColor": "black", "symbolStrokeWidth": 1.3, "symbolOpacity": 1, "labelFontSize": 13, "labelColor": "black", "labelOffset": 12, "rowPadding": 3.5, "padding": 0}}
  }
 }
]
}
